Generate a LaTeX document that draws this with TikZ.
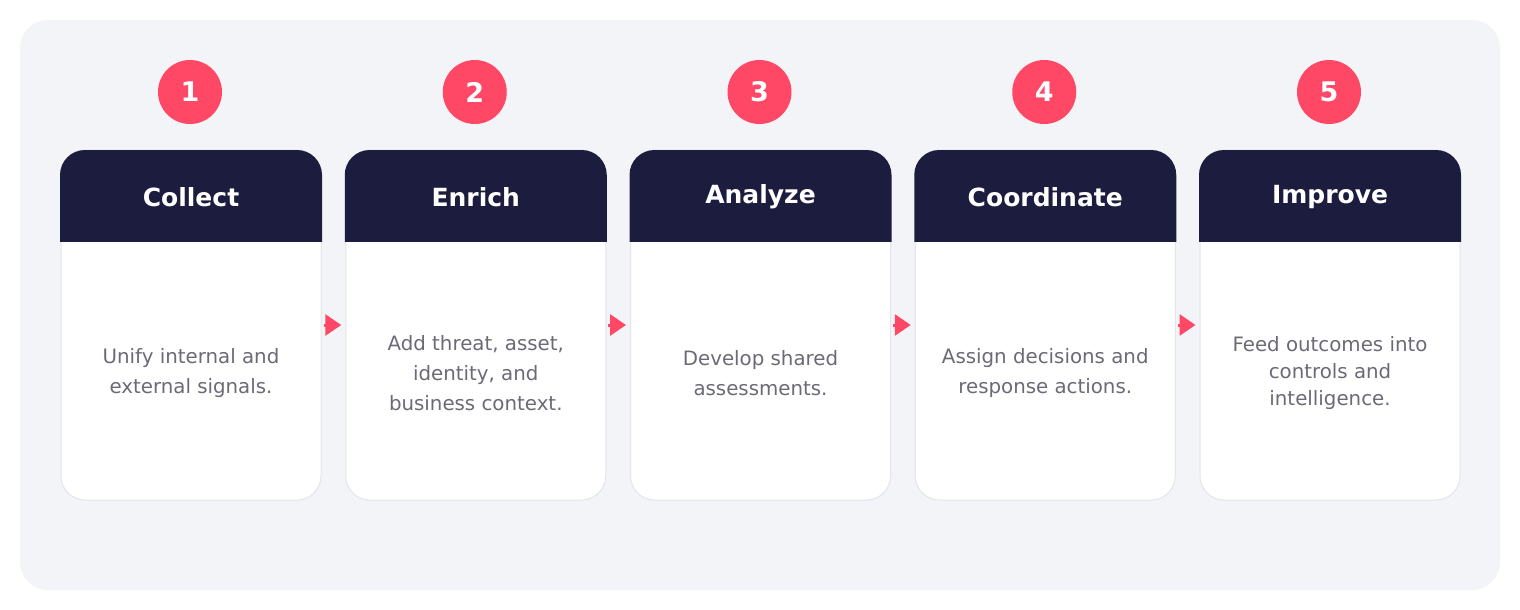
\documentclass[tikz,border=0pt]{standalone}
\usepackage{fontspec}
\setmainfont{DejaVu Sans}
\usetikzlibrary{arrows.meta,calc}
\definecolor{panelbg}{HTML}{F3F4F8}
\definecolor{navy}{HTML}{1C1C3E}
\definecolor{accent}{HTML}{FF4766}
\definecolor{bodytext}{HTML}{6B6B78}
\definecolor{cardline}{HTML}{E4E5EA}
\tikzset{
  numcircle/.style={circle, fill=accent, minimum size=64pt, inner sep=0pt, text=white, font=\fontsize{27}{30}\selectfont\bfseries},
  cardbody/.style={rectangle, fill=white, draw=cardline, line width=1pt, rounded corners=24pt, minimum width=260pt, minimum height=350pt, inner sep=0pt},
  headtext/.style={text=white, font=\fontsize{25}{30}\selectfont\bfseries, inner sep=0pt},
  bodytxt/.style={text=bodytext, align=center, inner sep=0pt, font=\fontsize{19.8}{30}\selectfont},
  flowarrow/.style={draw=accent, line width=3pt, -{Triangle[length=16pt,width=21pt]}},
}
\begin{document}
\begin{tikzpicture}[x=1pt,y=-1pt]
\useasboundingbox (0,0) rectangle (1520,610);
\fill[white] (0,0) rectangle (1520,610);
\fill[panelbg, rounded corners=28pt] (20,20) rectangle (1500,590);
\foreach \i/\num/\head/\body/\skip in {
  0/1/Collect/{Unify internal and\\external signals.}/30,
  1/2/Enrich/{Add threat, asset,\\identity, and\\business context.}/30,
  2/3/Analyze/{Develop shared\\assessments.}/30,
  3/4/Coordinate/{Assign decisions and\\response actions.}/30,
  4/5/Improve/{Feed outcomes into\\controls and\\intelligence.}/27} {
  \pgfmathsetmacro{\cx}{191+284.75*\i}
  \node[cardbody] (b\num) at (\cx,325) {};
  \begin{scope}
    \clip (\cx-140,140) rectangle (\cx+140,241);
    \fill[navy, rounded corners=25pt] (\cx-131,150) rectangle (\cx+131,320);
  \end{scope}
  \node[headtext] (h\num) at (\cx,197) {\head};
  \node[bodytxt, font=\fontsize{19.8}{\skip}\selectfont] (t\num) at (\cx,373) {\body};
  \node[numcircle] (n\num) at (\cx-1,92) {\num};
}
\foreach \a/\b in {1/2,2/3,3/4,4/5} {
  \draw[flowarrow] ([xshift=2pt]b\a.east) -- ([xshift=-4pt]b\b.west);
}
\end{tikzpicture}
\end{document}
